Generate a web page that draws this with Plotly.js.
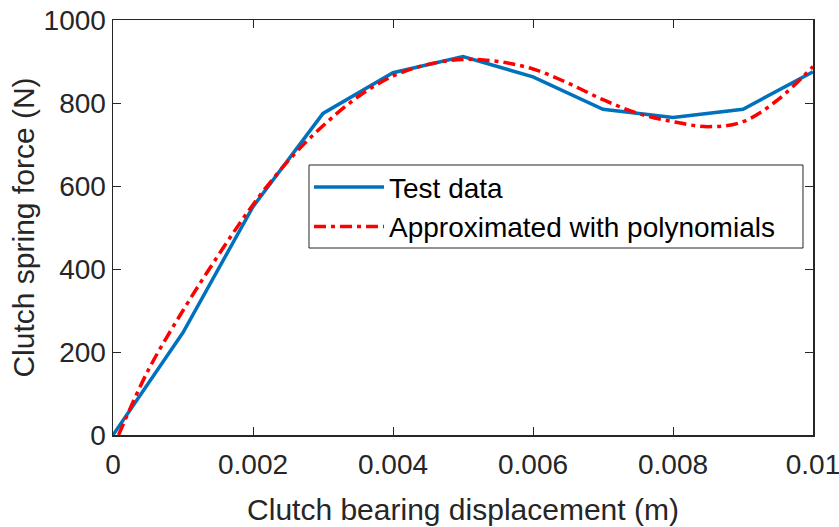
<!DOCTYPE html>
<html>
<head>
<meta charset="utf-8">
<script src="https://cdn.plot.ly/plotly-3.0.1.min.js"></script>
<style>html,body{margin:0;padding:0;background:#fff;}#chart{width:839px;height:527px;}</style>
</head>
<body>
<div id="chart"></div>
<script>
// Test data
const testX = [0, 0.001, 0.002, 0.003, 0.004, 0.005, 0.006, 0.007, 0.008, 0.009, 0.01];
const testY = [0, 247, 550, 775, 873, 912, 863, 785, 765, 785, 875];
// Polynomial approximation
const polyX = [0.00008, 0.0005, 0.001, 0.0015, 0.002, 0.0025, 0.003, 0.0035, 0.004, 0.0045, 0.005, 0.0055, 0.006, 0.0065, 0.007, 0.0075, 0.008, 0.0085, 0.009, 0.0095, 0.01];
const polyY = [0, 155, 300, 432, 555, 660, 745, 815, 865, 893, 905, 900, 882, 848, 808, 775, 755, 743, 755, 808, 888];
const xTickVals = [0, 0.002, 0.004, 0.006, 0.008, 0.01];
const xTickText = ['0', '0.002', '0.004', '0.006', '0.008', '0.01'];
const yTickVals = [0, 200, 400, 600, 800, 1000];
const seriesNames = ['Test data', 'Approximated with polynomials'];

const axisColor = '#262626';
const traces = [
  {x: testX, y: testY, mode: 'lines', name: seriesNames[0],
   line: {color: '#0072BD', width: 3.5}},
  {x: polyX, y: polyY, mode: 'lines', name: seriesNames[1], line: {color: '#FF0000', width: 3.5, dash: '12px,5px,4px,5px', shape: 'spline'}}
];
const layout = {
  width: 839, height: 527,
  margin: {l: 113, r: 26, t: 20, b: 92},
  paper_bgcolor: '#fff', plot_bgcolor: '#fff',
  font: {family: 'Liberation Sans, Arial, sans-serif', color: axisColor, size: 28},
  showlegend: true,
  legend: {x: 0.28, y: 0.657, xanchor: 'left', yanchor: 'top', borderwidth: 0,
           bgcolor: 'rgba(0,0,0,0)', font: {size: 28, color: '#000'}, itemwidth: 70},
  shapes: [{type: 'rect', xref: 'paper', yref: 'paper', x0: 0.28, x1: 0.9857, y0: 0.4506, y1: 0.6506,
            line: {color: '#262626', width: 1}, fillcolor: '#fff', layer: 'above'}],
  xaxis: {range: [0, 0.01], tickvals: xTickVals, ticktext: xTickText, ticks: 'inside', ticklen: 8, tickwidth: 1,
          tickcolor: axisColor, showline: true, linecolor: axisColor, linewidth: 1.5, mirror: 'ticks',
          showgrid: false, zeroline: false, tickfont: {size: 28}, ticklabelstandoff: 4, ticklabeloverflow: 'allow',
          title: {text: 'Clutch bearing displacement (m)', font: {size: 30}, standoff: 20}},
  yaxis: {range: [0, 1000], tickvals: yTickVals, ticks: 'inside', ticklen: 8, tickwidth: 1,
          tickcolor: axisColor, showline: true, linecolor: axisColor, linewidth: 1.5, mirror: 'ticks',
          showgrid: false, zeroline: false, tickfont: {size: 28},
          title: {text: 'Clutch spring force (N)', font: {size: 30}, standoff: 0}}
};
Plotly.newPlot('chart', traces, layout, {displayModeBar: false, staticPlot: true});
</script>
</body>
</html>
